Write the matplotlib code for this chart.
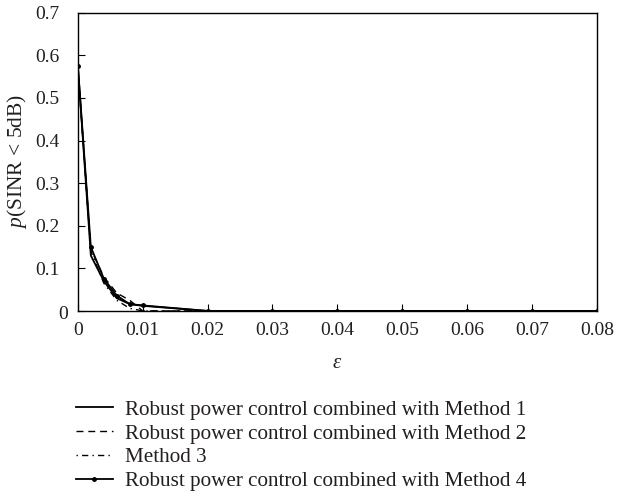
import matplotlib
matplotlib.use("Agg")
import matplotlib.pyplot as plt

eps = [0, 0.002, 0.004, 0.006, 0.008, 0.010, 0.020, 0.030, 0.040, 0.050, 0.060, 0.070, 0.080]
m1 = [0.575, 0.130, 0.070, 0.030, 0.016, 0.012, 0.0, 0.0, 0.0, 0.0, 0.0, 0.0, 0.0]
m2 = [0.570, 0.145, 0.080, 0.042, 0.025, 0.000, 0.0, 0.0, 0.0, 0.0, 0.0, 0.0, 0.0]
m3 = [0.570, 0.140, 0.065, 0.025, 0.006, 0.000, 0.0, 0.0, 0.0, 0.0, 0.0, 0.0, 0.0]
m4 = [0.575, 0.150, 0.076, 0.036, 0.016, 0.013, 0.0, 0.0, 0.0, 0.0, 0.0, 0.0, 0.0]
labels = ["Robust power control combined with Method 1",
          "Robust power control combined with Method 2",
          "Method 3",
          "Robust power control combined with Method 4"]
xticks = [0, 0.01, 0.02, 0.03, 0.04, 0.05, 0.06, 0.07, 0.08]
xticklabels = ["0", "0.01", "0.02", "0.03", "0.04", "0.05", "0.06", "0.07", "0.08"]
yticks = [0, 0.1, 0.2, 0.3, 0.4, 0.5, 0.6, 0.7]
yticklabels = ["0", "0.1", "0.2", "0.3", "0.4", "0.5", "0.6", "0.7"]

plt.rcParams['font.family'] = ['Liberation Serif', 'DejaVu Serif']
plt.rcParams['mathtext.fontset'] = 'custom'
plt.rcParams['mathtext.it'] = 'Liberation Serif:italic'
plt.rcParams['mathtext.rm'] = 'Liberation Serif'

fig = plt.figure(figsize=(6.23, 4.92), dpi=100)
ax = fig.add_axes([0.125, 0.368, 0.833, 0.606])
tc = '#231f20'
l1, = ax.plot(eps, m1, color='black', lw=1.3, ls='-')
l2, = ax.plot(eps, m2, color='black', lw=1.0, ls=(0, (5, 3.5)))
l3, = ax.plot(eps, m3, color='black', lw=1.0, ls=(0, (1, 3, 4.5, 3)))
l4, = ax.plot(eps, m4, color='black', lw=1.3, ls='-', marker='o', ms=2.5)

ax.set_xlim(0, 0.08)
ax.set_ylim(0, 0.7)
ax.set_xticks(xticks)
ax.set_xticklabels(xticklabels)
ax.set_yticks(yticks)
# the "0" label of the y axis sits closer to the axis in the original
ax.set_yticklabels([""] + yticklabels[1:])
ax.tick_params(direction='in', length=5, labelsize=14, colors='black', labelcolor=tc)
ax.tick_params(axis='y', pad=13)
ax.tick_params(axis='x', pad=8)
ax.annotate(yticklabels[0], xy=(0, yticks[0]), xycoords=('axes fraction', 'data'),
            xytext=(-7, -1), textcoords='offset points', ha='right', va='center_baseline',
            fontsize=14, color=tc)
for s in ax.spines.values():
    s.set_linewidth(1.0)

ax.set_xlabel(r'$\varepsilon$', fontsize=15, color=tc)
ax.xaxis.set_label_coords(0.5, -0.145)
ax.set_ylabel(r'$p$(SINR < 5dB)', fontsize=15.5, color=tc)
ax.yaxis.set_label_coords(-0.094, 0.5)

fig.legend([l1, l2, l3, l4], labels, loc='upper left', bbox_to_anchor=(0.122, 0.187),
           bbox_transform=fig.transFigure, frameon=False, fontsize=15.2,
           handlelength=1.75, handletextpad=0.55, labelspacing=0.19, borderaxespad=0,
           borderpad=0, labelcolor=tc)

fig.savefig('out.png', dpi=100)
